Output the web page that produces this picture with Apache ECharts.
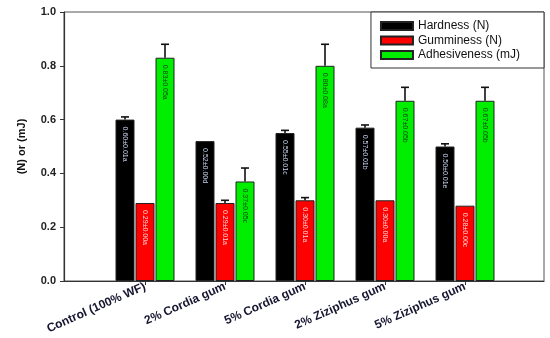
<!DOCTYPE html>
<html><head><meta charset="utf-8">
<script src="https://cdn.jsdelivr.net/npm/echarts@6/dist/echarts.min.js"></script>
<style>html,body{margin:0;padding:0;background:#fff}#c{width:550px;height:338px}</style>
</head><body><div id="c"></div>
<script>
const categories = ['Control (100% WF)', '2% Cordia gum', '5% Cordia gum', '2% Ziziphus gum', '5% Ziziphus gum'];
const hardness = [0.60, 0.52, 0.55, 0.57, 0.50];
const hardnessErr = [0.01, 0.00, 0.01, 0.01, 0.01];
const hardnessLabels = ['0.60±0.01a', '0.52±0.00d', '0.55±0.01c', '0.57±0.01b', '0.50±0.01e'];
const gumminess = [0.29, 0.29, 0.30, 0.30, 0.28];
const gumminessErr = [0.00, 0.01, 0.01, 0.00, 0.00];
const gumminessLabels = ['0.29±0.00a', '0.29±0.01a', '0.30±0.01a', '0.30±0.00a', '0.28±0.00c'];
const adhesiveness = [0.83, 0.37, 0.80, 0.67, 0.67];
const adhesivenessErr = [0.05, 0.05, 0.08, 0.05, 0.05];
const adhesivenessLabels = ['0.83±0.05a', '0.37±0.05c', '0.80±0.08a', '0.67±0.05b', '0.67±0.05b'];
const yTicks = [0, 0.2, 0.4, 0.6, 0.8, 1.0];

const BW = 19, GAP = 1;
const chart = echarts.init(document.getElementById('c'), null, {renderer: 'canvas'});

function errSeries(vals, errs, offset) {
  return {
    type: 'custom', xAxisIndex: 1, yAxisIndex: 1, z: 5,
    data: vals.map((v, i) => [i, v, errs[i]]),
    encode: {x: 0, y: 1},
    renderItem: function (params, api) {
      const e = api.value(2);
      if (!(e > 0)) return null;
      const idx = api.value(0), v = api.value(1);
      const x = api.coord([idx, 0])[0] + offset;
      const yb = api.coord([idx, v])[1];
      const yt = api.coord([idx, v + e])[1];
      return {type: 'group', children: [
        {type: 'line', shape: {x1: x, y1: yb, x2: x, y2: yt}, style: {stroke: '#111', lineWidth: 1.6}},
        {type: 'line', shape: {x1: x - 4, y1: yt, x2: x + 4, y2: yt}, style: {stroke: '#111', lineWidth: 1.6}}
      ]};
    }
  };
}

function barSeries(name, vals, labels, color, labelColor) {
  return {
    name: name, type: 'bar', xAxisIndex: 1, yAxisIndex: 1,
    data: vals, barWidth: BW, barGap: (GAP / BW * 100) + '%',
    itemStyle: {color: color, borderColor: '#222', borderWidth: 1},
    label: {
      show: true, position: 'insideTop', rotate: -90, align: 'left', verticalAlign: 'middle',
      distance: 7, fontSize: 7, fontFamily: 'Arial', color: labelColor,
      formatter: p => labels[p.dataIndex]
    }
  };
}

chart.setOption({
  animation: false,
  grid: [
    {left: 64, right: 6, top: 12, bottom: 57, show: true, borderColor: '#555', borderWidth: 1},
    {left: 105, right: 45, top: 12, bottom: 57}
  ],
  xAxis: [
    {gridIndex: 0, type: 'value', min: 0, max: 1, axisLine: {show: true, lineStyle: {color: '#333', width: 1.2}},
     axisLabel: {show: false}, axisTick: {show: false}, splitLine: {show: false}},
    {gridIndex: 1, type: 'category', data: categories, axisLine: {show: false},
     axisTick: {show: true, alignWithLabel: true, length: 4, lineStyle: {color: '#333'}},
     axisLabel: {interval: 0, rotate: 24, margin: 5, fontSize: 12, fontWeight: 'bold', fontFamily: 'Arial', color: '#151530'}}
  ],
  yAxis: [
    {gridIndex: 0, type: 'value', min: 0, max: 1, interval: 0.2,
     name: '(N) or (mJ)', nameLocation: 'middle', nameGap: 37, nameRotate: 90,
     nameTextStyle: {fontSize: 11, fontWeight: 'bold', fontFamily: 'Arial', color: '#111'},
     axisLine: {show: true, lineStyle: {color: '#333', width: 1.2}},
     axisTick: {show: true, length: 4, lineStyle: {color: '#333'}},
     axisLabel: {fontSize: 11, fontWeight: 'bold', fontFamily: 'Arial', color: '#222', margin: 8,
                 formatter: v => v.toFixed(1)},
     splitLine: {show: false}},
    {gridIndex: 1, type: 'value', min: 0, max: 1, show: false, splitLine: {show: false}}
  ],
  legend: {
    orient: 'vertical', right: 6, top: 12, icon: 'rect',
    padding: [8, 24, 7, 9], itemGap: 2.5, itemWidth: 32, itemHeight: 8,
    borderColor: '#333', borderWidth: 1, backgroundColor: '#fff',
    textStyle: {fontSize: 12, fontFamily: 'Arial', color: '#111'},
    data: ['Hardness (N)', 'Gumminess (N)', 'Adhesiveness (mJ)']
  },
  series: [
    barSeries('Hardness (N)', hardness, hardnessLabels, '#000000', '#c8d6ee'),
    barSeries('Gumminess (N)', gumminess, gumminessLabels, '#ff0000', '#ffd8d8'),
    barSeries('Adhesiveness (mJ)', adhesiveness, adhesivenessLabels, '#00ee00', '#1a3a1a'),
    errSeries(hardness, hardnessErr, -(BW + GAP)),
    errSeries(gumminess, gumminessErr, 0),
    errSeries(adhesiveness, adhesivenessErr, BW + GAP)
  ]
});
</script></body></html>
